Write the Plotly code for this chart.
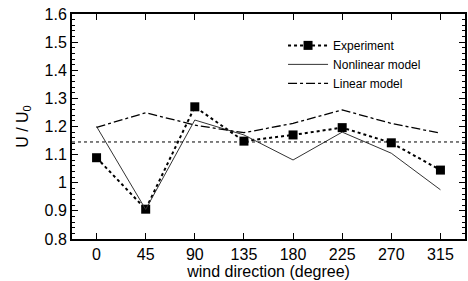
import plotly.graph_objects as go

directions = ["0", "45", "90", "135", "180", "225", "270", "315"]
experiment = [1.089, 0.906, 1.270, 1.148, 1.170, 1.196, 1.142, 1.045]
nonlinear = [1.200, 0.905, 1.223, 1.170, 1.081, 1.180, 1.105, 0.975]
linear = [1.197, 1.249, 1.205, 1.178, 1.211, 1.259, 1.211, 1.176]
reference_level = 1.145

fig = go.Figure()
fig.add_trace(go.Scatter(x=directions, y=experiment, name="Experiment",
                         mode="lines+markers",
                         line=dict(color="black", width=2, dash="dot"),
                         marker=dict(symbol="square", size=9, color="black")))
fig.add_trace(go.Scatter(x=directions, y=nonlinear, name="Nonlinear model",
                         mode="lines", line=dict(color="#333333", width=1)))
fig.add_trace(go.Scatter(x=directions, y=linear, name="Linear model",
                         mode="lines", line=dict(color="black", width=1.3, dash="dashdot")))

fig.add_shape(type="line", xref="paper", yref="y", x0=0, x1=1,
              y0=reference_level, y1=reference_level,
              line=dict(color="black", width=1, dash="dot"))

fig.update_layout(
    width=468, height=281,
    margin=dict(l=72, r=3, t=14, b=42, autoexpand=False),
    paper_bgcolor="white", plot_bgcolor="white",
    font=dict(family="Liberation Sans, Arial", size=16, color="black"),
    showlegend=True,
    legend=dict(x=0.537, y=0.925, xanchor="left", yanchor="top",
                bgcolor="rgba(0,0,0,0)", font=dict(size=12),
                tracegroupgap=0, itemwidth=40),
)
fig.update_xaxes(type="category", range=[-0.5, 7.5], automargin=False,
                 showline=True, linecolor="black", linewidth=2, mirror="ticks",
                 ticks="inside", ticklen=6, tickcolor="black",
                 showgrid=False, zeroline=False,
                 title=dict(text="wind direction (degree)", standoff=0,
                            font=dict(size=16)))
fig.update_yaxes(range=[0.8, 1.6], dtick=0.1, tick0=0.8, automargin=False,
                 showline=True, linecolor="black", linewidth=2, mirror="ticks",
                 ticks="inside", ticklen=6, tickcolor="black",
                 minor=dict(dtick=0.02, ticks="inside", ticklen=3, tickcolor="black"),
                 showgrid=False, zeroline=False,
                 title=dict(text="U / U<sub>0</sub>", standoff=12, font=dict(size=16)))

fig.write_html("out.html", config={"displayModeBar": False},
               post_script="document.body.style.margin='0px';document.body.style.overflow='hidden';")
